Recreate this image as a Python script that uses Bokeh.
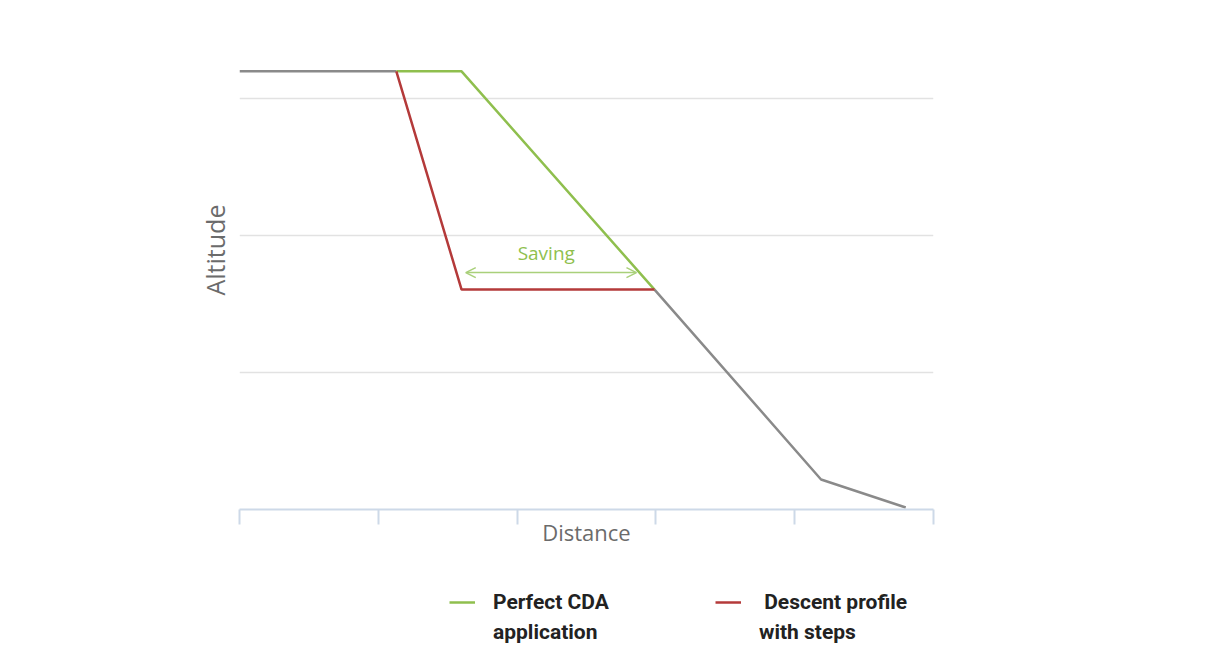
from bokeh.plotting import figure
from bokeh.layouts import column
from bokeh.models import (FixedTicker, Label, Legend, LegendItem, Arrow, OpenHead, Range1d, Title)
from bokeh.embed import file_html
from bokeh.resources import INLINE

# ---- data (distance units, altitude units) ----
cruise_x = [0.0, 1.13]
cruise_y = [3.2, 3.2]
cda_x = [1.13, 1.60, 2.99]
cda_y = [3.2, 3.2, 1.606]
step_x = [1.13, 1.60, 2.99]
step_y = [3.2, 1.606, 1.606]
final_x = [2.99, 4.19, 4.80]
final_y = [1.606, 0.219, 0.015]
saving_x = [1.63, 2.86]
saving_y = 1.73
saving_label_pos = (2.21, 1.87)
x_ticks = [0, 1, 2, 3, 4, 5]
y_grid = [1, 2, 3]
legend_line1 = ["Perfect CDA", " Descent profile"]
legend_line2 = ["application", "with steps"]

GREEN = "#8fbf4e"
RED = "#b43a3a"
GRAY = "#8a8a8a"
AXIS = "#cdd9e8"
TXT = "#6b6b6b"
LEG = "#222222"

p = figure(frame_width=694, frame_height=445,
           x_range=Range1d(0, 5), y_range=Range1d(0, 3.25),
           output_backend="svg", toolbar_location=None,
           min_border_left=239, min_border_top=64,
           min_border_right=275, min_border_bottom=45)
p.outline_line_color = None
p.background_fill_color = "white"
p.border_fill_color = "white"

p.yaxis.visible = False
p.add_layout(Title(text="Altitude", align="left", offset=214, standoff=16,
                   text_font="Open Sans", text_font_style="normal",
                   text_font_size="25px", text_color=TXT), "left")

p.xgrid.visible = False
p.ygrid.ticker = FixedTicker(ticks=y_grid)
p.ygrid.grid_line_color = "#e2e2e2"
p.ygrid.grid_line_width = 1.5

xa = p.xaxis[0]
xa.ticker = FixedTicker(ticks=x_ticks)
xa.major_label_overrides = {t: "" for t in x_ticks}
xa.major_label_standoff = 0
xa.major_tick_in = 0
xa.major_tick_out = 15
xa.minor_tick_line_color = None
xa.axis_line_color = AXIS
xa.axis_line_width = 2
xa.major_tick_line_color = AXIS
xa.major_tick_line_width = 2
xa.axis_label = "Distance"
xa.axis_label_text_font = "Open Sans"
xa.axis_label_text_font_style = "normal"
xa.axis_label_text_font_size = "22px"
xa.axis_label_text_color = TXT
xa.axis_label_standoff = -8

# lines
p.line(cruise_x, cruise_y, line_color=GRAY, line_width=2.5)
p.line(final_x, final_y, line_color=GRAY, line_width=2.5)
p.line(cda_x, cda_y, line_color=GREEN, line_width=2.5)
p.line(step_x, step_y, line_color=RED, line_width=2.5)

# saving arrow
p.add_layout(Arrow(x_start=saving_x[0], y_start=saving_y, x_end=saving_x[1], y_end=saving_y,
                   line_color="#a9d07a", line_width=1.5,
                   start=OpenHead(size=10, line_color="#a9d07a", line_width=1.5),
                   end=OpenHead(size=10, line_color="#a9d07a", line_width=1.5)))
p.add_layout(Label(x=saving_label_pos[0], y=saving_label_pos[1], text="Saving",
                   text_align="center", text_baseline="middle",
                   text_font="Open Sans", text_font_size="19px", text_color="#8fbf4e"))

# ---- legend strip (separate figure below); its series lie outside its view ----
q = figure(frame_width=694, frame_height=95,
           x_range=Range1d(-2, -1), y_range=Range1d(-2, -1),
           output_backend="svg", toolbar_location=None,
           min_border_left=239, min_border_top=0,
           min_border_right=275, min_border_bottom=0)
q.outline_line_color = None
q.axis.visible = False
q.grid.visible = False
q.background_fill_color = "white"
q.border_fill_color = "white"
g = q.line(cda_x, cda_y, line_color=GREEN, line_width=2.5)
r = q.line(step_x, step_y, line_color=RED, line_width=2.5)
blank = q.line(cruise_x, cruise_y, line_alpha=0)

items = [LegendItem(label=legend_line1[0], renderers=[g]),
         LegendItem(label=legend_line1[1], renderers=[r]),
         LegendItem(label=legend_line2[0], renderers=[blank]),
         LegendItem(label=legend_line2[1], renderers=[blank])]
lg = Legend(items=items, ncols=2, orientation="horizontal", location=(210, 4),
            border_line_alpha=0, background_fill_alpha=0, padding=0, margin=0,
            spacing=4, glyph_width=26, glyph_height=26, label_height=26,
            label_width=218, label_standoff=18,
            label_text_font="Roboto", label_text_font_style="bold",
            label_text_font_size="21px", label_text_color=LEG)
q.add_layout(lg)

layout = column(p, q, spacing=0)
open("out.html", "w").write(file_html(layout, INLINE))
